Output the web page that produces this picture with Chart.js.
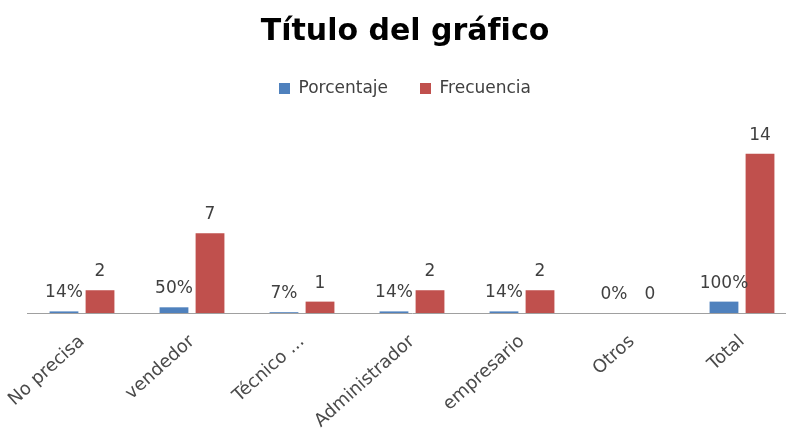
<!DOCTYPE html>
<html lang="es">
<head>
<meta charset="utf-8">
<title>Título del gráfico</title>
<script src="https://cdn.jsdelivr.net/npm/chart.js@4.4.1/dist/chart.umd.min.js"></script>
<style>
  html, body { margin: 0; padding: 0; background: #fff; overflow: hidden; }
  #contenedor { width: 810px; height: 428px; }
</style>
</head>
<body>
<div id="contenedor"><canvas id="grafico"></canvas></div>
<script>
// Datos del gráfico
const categorias = ['No precisa', 'vendedor', 'Técnico ...', 'Administrador', 'empresario', 'Otros', 'Total'];
const porcentaje = [0.14, 0.5, 0.07, 0.14, 0.14, 0, 1];
const frecuencia = [2, 7, 1, 2, 2, 0, 14];

const fuente = '"DejaVu Sans", sans-serif';

// Plugin para escribir el valor encima de cada barra
const etiquetasPlugin = {
    id: 'etiquetas',
    afterDatasetsDraw(chart) {
        const ctx = chart.ctx;
        ctx.save();
        ctx.font = '17px ' + fuente;
        ctx.fillStyle = '#404040';
        ctx.textAlign = 'center';
        ctx.textBaseline = 'alphabetic';
        chart.data.datasets.forEach((ds, i) => {
            chart.getDatasetMeta(i).data.forEach((barra, j) => {
                const v = ds.data[j];
                const texto = i === 0 ? Math.round(v * 100) + '%' : String(v);
                ctx.fillText(texto, barra.x, barra.y - 14);
            });
        });
        ctx.restore();
    }
};

const ctx = document.getElementById('grafico').getContext('2d');
const grafico = new Chart(ctx, {
    type: 'bar',
    data: {
        labels: categorias,
        datasets: [
            {
                label: 'Porcentaje',
                data: porcentaje,
                backgroundColor: '#4F81BD',
                categoryPercentage: 0.655,
                barPercentage: 0.8
            },
            {
                label: 'Frecuencia',
                data: frecuencia,
                backgroundColor: '#C0504D',
                categoryPercentage: 0.655,
                barPercentage: 0.8
            }
        ]
    },
    options: {
        responsive: true,
        maintainAspectRatio: false,
        animation: false,
        layout: { padding: 0 },
        plugins: {
            title: {
                display: true,
                text: 'Título del gráfico',
                color: '#000',
                font: { family: fuente, size: 30, weight: 'bold', lineHeight: 1 },
                padding: { top: 17, bottom: 1 }
            },
            legend: {
                display: true,
                labels: {
                    boxWidth: 11,
                    boxHeight: 11,
                    color: '#404040',
                    font: { family: fuente, size: 17 },
                    padding: 32
                }
            },
            tooltip: { enabled: false }
        },
        scales: {
            x: {
                grid: { display: false, drawTicks: false },
                border: { display: true, color: '#a0a0a0', width: 1 },
                ticks: {
                    color: '#4a4a4a',
                    font: { family: fuente, size: 18 },
                    minRotation: 42,
                    maxRotation: 42,
                    padding: 18
                },
                afterFit(scale) {
                    // margen fijo del área del gráfico
                    scale.height = 115;
                    scale.paddingLeft = 27;
                    scale.paddingRight = 13;
                }
            },
            y: {
                display: false,
                min: 0,
                max: 18.1
            }
        }
    },
    plugins: [etiquetasPlugin]
});
</script>
</body>
</html>
